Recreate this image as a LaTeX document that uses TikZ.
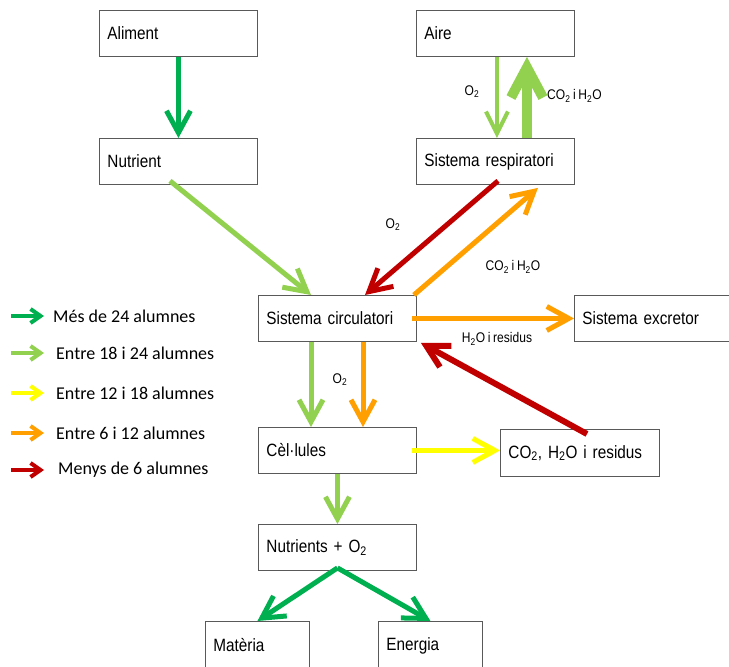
\documentclass[tikz,border=0pt]{standalone}
\usepackage{fontspec}
\setmainfont[FakeStretch=0.86,WordSpace=0.8]{Liberation Sans}
\newfontfamily\legfont{Carlito}
\usetikzlibrary{arrows.meta,calc}
\definecolor{dgreen}{RGB}{0,176,80}
\definecolor{lgreen}{RGB}{146,208,80}
\definecolor{yel}{RGB}{255,255,0}
\definecolor{orng}{RGB}{255,160,0}
\definecolor{dred}{RGB}{192,0,0}
\newcommand{\boxfont}{\fontsize{17.8}{20}\selectfont}
\newcommand{\lblfont}{\fontsize{14}{16}\selectfont}
\begin{document}
\begin{tikzpicture}[x=1pt,y=-1pt,
  box/.style={draw=black!65, line width=0.9pt, anchor=north west, inner xsep=8pt, inner ysep=0pt,
    minimum height=46pt, text width=142pt, font=\boxfont},
  lbl/.style={font=\lblfont, inner sep=0pt},
  leg/.style={font=\legfont\fontsize{18}{21}\selectfont, anchor=west, inner sep=0pt},
  arr/.style={line width=5pt, -{Straight Barb[length=22pt,width=24pt]}},
  thin/.style={line width=4pt, -{Straight Barb[length=22pt,width=22pt]}},
  thick/.style={line width=10pt, -{Straight Barb[length=30pt,width=32pt]}},
  legarr/.style={line width=4pt, -{Straight Barb[length=10pt,width=14pt]}}
]
\useasboundingbox (0,0) rectangle (729,667);

% boxes
\node[box] (aliment) at (99,10) {Aliment};
\node[box] (nutrient) at (99,138) {Nutrient};
\node[box] (aire) at (416,10) {Aire};
\node[box] (resp) at (416,138) {Sistema respiratori};
\node[box] (circ) at (258,295) {Sistema circulatori};
\node[box, text width=139pt] (excr) at (574,295) {Sistema excretor};
\node[box] (cells) at (258,427) {Cèl·lules};
\node[box, text width=143pt, minimum height=47pt] (co2) at (500,429) {CO\textsubscript{2}, H\textsubscript{2}O i residus};
\node[box] (nuto) at (258,524) {Nutrients + O\textsubscript{2}};
\node[box, text width=88pt, minimum height=48pt] (materia) at (205,621) {Matèria};
\node[box, text width=88pt, minimum height=48pt] (energia) at (378,621) {Energia};

% connectors
\draw[arr, dgreen] (aliment.south) -- (nutrient.north);
\draw[thin, lgreen] ([xshift=1.5pt]aire.south) -- ([xshift=1.5pt]resp.north);
\draw[thick, lgreen] ([xshift=31.5pt]resp.north) -- ([xshift=31.5pt]aire.south);
\draw[arr, lgreen] ($(nutrient.south west)+(71,-4)$) -- ($(circ.north west)+(53,0)$);
\draw[arr, dred] ($(resp.south west)+(82,-4)$) -- ($(circ.north west)+(107,0)$);
\draw[arr, orng] ($(circ.north east)+(-3,0)$) -- ($(resp.south west)+(122,3)$);
\draw[arr, orng] ([xshift=-5pt]circ.east) -- (excr.west);
\draw[arr, line width=6pt, dred] ($(co2.north west)+(87,5)$) -- ($(circ.south east)+(4,1)$);
\draw[arr, lgreen] ($(circ.south west)+(53,0)$) -- ($(cells.north west)+(53,0)$);
\draw[arr, orng] ($(circ.south west)+(105,0)$) -- ($(cells.north west)+(105,0)$);
\draw[arr, yel] ([xshift=-5pt]cells.east) -- (co2.west |- cells.east);
\draw[arr, lgreen] (cells.south) -- (nuto.north);
\coordinate (split) at ($(nuto.south)+(0,-3)$);
\draw[arr, dgreen] (split) -- (materia.north);
\draw[arr, dgreen] (split) -- (energia.north);

% labels
\node[lbl] (l1) at (472,92) {O\textsubscript{2}};
\node[lbl, anchor=west] (l2) at (547,96) {CO\textsubscript{2} i H\textsubscript{2}O};
\node[lbl] (l3) at (393,225) {O\textsubscript{2}};
\node[lbl] (l4) at (513,267) {CO\textsubscript{2} i H\textsubscript{2}O};
\node[lbl] (l5) at (497,339) {H\textsubscript{2}O i residus};
\node[lbl] (l6) at (340,380) {O\textsubscript{2}};

% legend
\coordinate (g1a) at (11,316); \coordinate (g1b) at (44,316);
\coordinate (g2a) at (11,353); \coordinate (g2b) at (44,353);
\coordinate (g3a) at (11,393); \coordinate (g3b) at (44,393);
\coordinate (g4a) at (11,433); \coordinate (g4b) at (44,433);
\coordinate (g5a) at (11,470); \coordinate (g5b) at (44,470);
\draw[legarr, dgreen] (g1a) -- (g1b);
\draw[legarr, lgreen] (g2a) -- (g2b);
\draw[legarr, yel] (g3a) -- (g3b);
\draw[legarr, orng] (g4a) -- (g4b);
\draw[legarr, dred] (g5a) -- (g5b);
\node[leg] (t1) at (53,316) {Més de 24 alumnes};
\node[leg] (t2) at (56,353) {Entre 18 i 24 alumnes};
\node[leg] (t3) at (56,393) {Entre 12 i 18 alumnes};
\node[leg] (t4) at (56,433) {Entre 6 i 12 alumnes};
\node[leg] (t5) at (58,470) {Menys de 6 alumnes};
\end{tikzpicture}
\end{document}
